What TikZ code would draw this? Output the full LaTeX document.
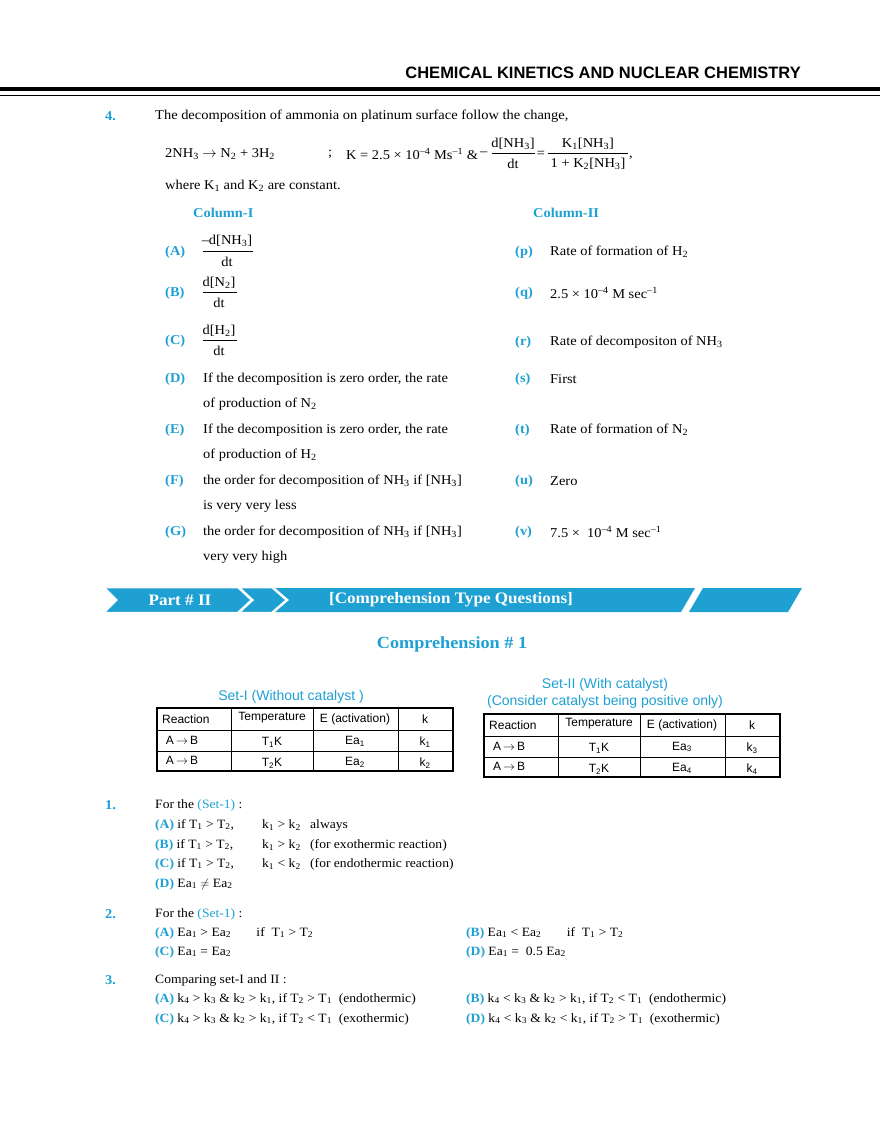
\documentclass[tikz,border=0pt]{standalone}
\usepackage{fontspec}
\setmainfont[FakeStretch=1.07]{Liberation Serif}
\newfontfamily\hsans{Liberation Sans}
\definecolor{cy}{RGB}{30,160,210}
\newcommand{\sbs}[1]{\textsubscript{#1}}
\newcommand{\sps}[1]{\textsuperscript{#1}}
\newcommand{\ra}{$\rightarrow$}
\begin{document}
\begin{tikzpicture}[x=1pt,y=-1pt,
  t/.style={anchor=west,inner sep=0pt,font=\fontsize{13.5}{15}\selectfont},
  tq/.style={anchor=west,inner sep=0pt,font=\fontsize{12.7}{15}\selectfont},
  c/.style={t,text=cy,font=\fontsize{13.5}{15}\selectfont\bfseries},
  ts/.style={inner sep=0pt,font=\hsans\fontsize{12}{14}\selectfont},
  fr/.style={inner sep=0pt,font=\fontsize{13.5}{15}\selectfont,anchor=center},
  bn/.style={fill=cy,draw=white,line width=2.5pt,line join=miter}]
\useasboundingbox (0,0) rectangle (880,1139);
% header
\node[anchor=east,inner sep=0pt,font=\hsans\bfseries\fontsize{16.5}{18}\selectfont] (hd) at (801,73) {CHEMICAL KINETICS AND NUCLEAR CHEMISTRY};
\draw[line width=4pt] (0,89) -- (880,89);
\draw[line width=1.2pt] (0,95.5) -- (880,95.5);
% question 4
\node[c] (q4) at (105,116) {4.};
\node[t] (q4t) at (155,116) {The decomposition of ammonia on platinum surface follow the change,};
\node[t] (eq1) at (165,154) {2NH\sbs{3} \ra{} N\sbs{2} + 3H\sbs{2}};
\node[t] (eq2) at (328,154) {;};
\node[t] (eq3) at (346,154) {K = 2.5 × 10\sps{–4} Ms\sps{–1} \&};
\node[t] (mn) at (480,154) {–};
\node[fr] (f1n) at (513,144) {d[NH\sbs{3}]};
\node[fr] (f1d) at (513,164) {dt};
\draw[line width=0.6pt] (492,153) -- (535,153);
\node[fr] (eqs) at (541,154) {=};
\node[fr] (f2n) at (588,144) {K\sbs{1}[NH\sbs{3}]};
\node[fr] (f2d) at (588,164) {1 + K\sbs{2}[NH\sbs{3}]};
\draw[line width=0.6pt] (548,153) -- (628,153);
\node[t] (cm) at (629,158) {,};
\node[t] (wh) at (165,186) {where K\sbs{1} and K\sbs{2} are constant.};
\node[c] (col1) at (193,213) {Column-I};
\node[c] (col2) at (533,213) {Column-II};
% A
\node[c] (A) at (165,252) {(A)};
\node[fr] (An) at (227,241) {–d[NH\sbs{3}]};
\node[fr] (Ad) at (227,262) {dt};
\draw[line width=0.6pt] (203,251) -- (253,251);
\node[c] (p) at (515,252) {(p)};
\node[t] (pt) at (550,252) {Rate of formation of H\sbs{2}};
% B
\node[c] (B) at (165,293) {(B)};
\node[fr] (Bn) at (219,283) {d[N\sbs{2}]};
\node[fr] (Bd) at (219,303) {dt};
\draw[line width=0.6pt] (203,292) -- (237,292);
\node[c] (q) at (515,293) {(q)};
\node[t] (qt) at (550,293) {2.5 × 10\sps{–4} M sec\sps{–1}};
% C
\node[c] (C) at (165,341) {(C)};
\node[fr] (Cn) at (219,331) {d[H\sbs{2}]};
\node[fr] (Cd) at (219,351) {dt};
\draw[line width=0.6pt] (203,340) -- (237,340);
\node[c] (r) at (515,342) {(r)};
\node[t] (rt) at (550,342) {Rate of decompositon of NH\sbs{3}};
% D-G
\node[c] (D) at (165,379) {(D)};
\node[t] (Dt) at (203,379) {If the decomposition is zero order, the rate};
\node[t] (Dt2) at (203,404) {of production of N\sbs{2}};
\node[c] (s) at (515,379) {(s)};
\node[t] (st) at (550,379) {First};
\node[c] (E) at (165,430) {(E)};
\node[t] (Et) at (203,430) {If the decomposition is zero order, the rate};
\node[t] (Et2) at (203,455) {of production of H\sbs{2}};
\node[c] (tt) at (515,430) {(t)};
\node[t] (ttt) at (550,430) {Rate of formation of N\sbs{2}};
\node[c] (F) at (165,481) {(F)};
\node[t] (Ft) at (203,481) {the order for decomposition of NH\sbs{3} if [NH\sbs{3}]};
\node[t] (Ft2) at (203,506) {is very very less};
\node[c] (u) at (515,481) {(u)};
\node[t] (ut) at (550,481) {Zero};
\node[c] (G) at (165,532) {(G)};
\node[t] (Gt) at (203,532) {the order for decomposition of NH\sbs{3} if [NH\sbs{3}]};
\node[t] (Gt2) at (203,557) {very very high};
\node[c] (v) at (515,532) {(v)};
\node[t] (vt) at (550,532) {7.5 ×\ \ 10\sps{–4} M sec\sps{–1}};
% banner
\fill[cy] (268,588) -- (695,588) -- (681,612) -- (268,612) -- cycle;
\filldraw[bn] (238,587) -- (272,587) -- (287,600) -- (272,613) -- (238,613) -- (252,600) -- cycle;
\filldraw[bn] (103,587) -- (238,587) -- (252,600) -- (238,613) -- (103,613) -- (116,600) -- cycle;
\fill[cy] (703,588) -- (802,588) -- (788,612) -- (689,612) -- cycle;
\node[inner sep=0pt,text=white,font=\fontsize{16}{18}\selectfont\bfseries] (part) at (180,600) {Part \# II};
\node[inner sep=0pt,text=white,font=\fontsize{16}{18}\selectfont\bfseries] (cq) at (451,600) {[Comprehension Type Questions]};
\node[inner sep=0pt,text=cy,font=\fontsize{17}{19}\selectfont\bfseries] (comp) at (452,644) {Comprehension \# 1};
% tables
\node[inner sep=0pt,text=cy,font=\hsans\fontsize{14}{16}\selectfont] (s1) at (291,697) {Set-I (Without catalyst )};
\node[inner sep=0pt,text=cy,font=\hsans\fontsize{14}{16}\selectfont] (s2a) at (605,685) {Set-II (With catalyst)};
\node[inner sep=0pt,text=cy,font=\hsans\fontsize{14}{16}\selectfont] (s2b) at (605,702) {(Consider catalyst being positive only)};
\foreach \X/\Y/\a/\b/\c/\d in {157/708/1/2/1/2, 484/714/1/2/3/4}{
 \begin{scope}[shift={(\X,\Y)}]
 \draw[line width=1.2pt] (0,0) rectangle (296,63);
 \draw[line width=1pt] (0,22) -- (296,22) (0,43) -- (296,43)
   (74,0) -- (74,63) (156,0) -- (156,63) (241,0) -- (241,63);
 \node[ts,anchor=west] at (5,11) {Reaction};
 \node[ts] at (115,10) {Temperature};
 \node[ts] at (198,11) {E (activation)};
 \node[ts] at (268,11) {k};
 \node[ts] at (25,32) {A\,\ra\,B};
 \node[ts] at (25,52) {A\,\ra\,B};
 \node[ts] at (115,34) {T\sbs{\a}K};
 \node[ts] at (115,55) {T\sbs{\b}K};
 \node[ts] at (198,33) {Ea\sbs{\c}};
 \node[ts] at (198,54) {Ea\sbs{\d}};
 \node[ts] at (268,34) {k\sbs{\c}};
 \node[ts] at (268,55) {k\sbs{\d}};
 \end{scope}}
% questions
\node[c] (n1) at (105,805) {1.};
\node[tq] (n1t) at (155,805) {For the \textcolor{cy}{(Set-1)} :};
\node[tq] (a1) at (155,825) {\textcolor{cy}{\bfseries(A)} if T\sbs{1} > T\sbs{2},};
\node[tq] (a1k) at (262,825) {k\sbs{1} > k\sbs{2}};
\node[tq] (a1x) at (310,825) {always};
\node[tq] (b1) at (155,845) {\textcolor{cy}{\bfseries(B)} if T\sbs{1} > T\sbs{2},};
\node[tq] (b1k) at (262,845) {k\sbs{1} > k\sbs{2}};
\node[tq] (b1x) at (310,845) {(for exothermic reaction)};
\node[tq] (c1) at (155,864) {\textcolor{cy}{\bfseries(C)} if T\sbs{1} > T\sbs{2},};
\node[tq] (c1k) at (262,864) {k\sbs{1} < k\sbs{2}};
\node[tq] (c1x) at (310,864) {(for endothermic reaction)};
\node[tq] (d1) at (155,884) {\textcolor{cy}{\bfseries(D)} Ea\sbs{1} $\neq$ Ea\sbs{2}};
\node[c] (n2) at (105,914) {2.};
\node[tq] (n2t) at (155,914) {For the \textcolor{cy}{(Set-1)} :};
\node[tq] (a2) at (155,933) {\textcolor{cy}{\bfseries(A)} Ea\sbs{1} > Ea\sbs{2}\qquad if\ \ T\sbs{1} > T\sbs{2}};
\node[tq] (b2) at (466,933) {\textcolor{cy}{\bfseries(B)} Ea\sbs{1} < Ea\sbs{2}\qquad if\ \ T\sbs{1} > T\sbs{2}};
\node[tq] (c2) at (155,952) {\textcolor{cy}{\bfseries(C)} Ea\sbs{1} = Ea\sbs{2}};
\node[tq] (d2) at (466,952) {\textcolor{cy}{\bfseries(D)} Ea\sbs{1} =\ \ 0.5 Ea\sbs{2}};
\node[c] (n3) at (105,980) {3.};
\node[tq] (n3t) at (155,980) {Comparing set-I and II :};
\node[tq] (a3) at (155,999) {\textcolor{cy}{\bfseries(A)} k\sbs{4} > k\sbs{3} \& k\sbs{2} > k\sbs{1}, if T\sbs{2} > T\sbs{1}\ \ (endothermic)};
\node[tq] (b3) at (466,999) {\textcolor{cy}{\bfseries(B)} k\sbs{4} < k\sbs{3} \& k\sbs{2} > k\sbs{1}, if T\sbs{2} < T\sbs{1}\ \ (endothermic)};
\node[tq] (c3) at (155,1019) {\textcolor{cy}{\bfseries(C)} k\sbs{4} > k\sbs{3} \& k\sbs{2} > k\sbs{1}, if T\sbs{2} < T\sbs{1}\ \ (exothermic)};
\node[tq] (d3) at (466,1019) {\textcolor{cy}{\bfseries(D)} k\sbs{4} < k\sbs{3} \& k\sbs{2} < k\sbs{1}, if T\sbs{2} > T\sbs{1}\ \ (exothermic)};
\end{tikzpicture}
\end{document}
